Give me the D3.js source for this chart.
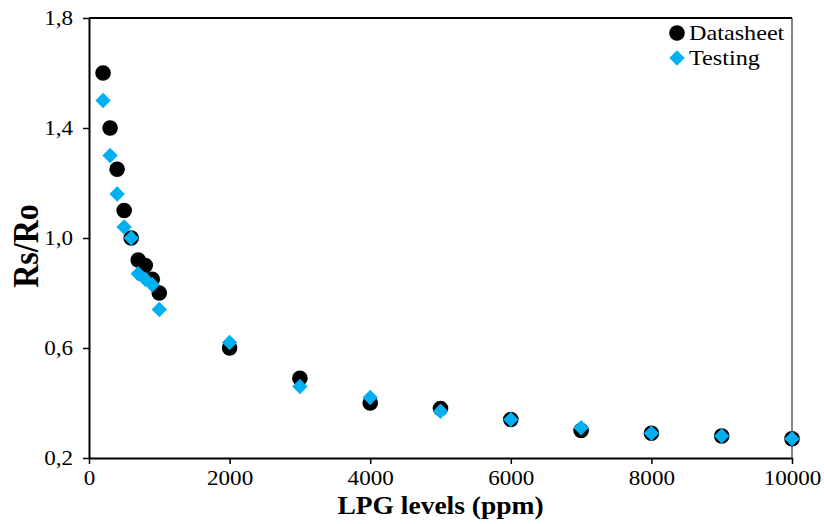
<!DOCTYPE html>
<html>
<head>
<meta charset="utf-8">
<script src="https://cdn.jsdelivr.net/npm/d3@7"></script>
<style>
  body { margin: 0; background: #fff; }
  text { font-family: "Liberation Serif", "Times New Roman", serif; }
</style>
</head>
<body>
<svg id="chart" width="824" height="524"></svg>
<script>
const levels = [200, 300, 400, 500, 600, 700, 800, 900, 1000, 2000, 3000, 4000, 5000, 6000, 7000, 8000, 9000, 10000];
const datasheet = [1.6, 1.4, 1.25, 1.1, 1.0, 0.92, 0.9, 0.85, 0.8, 0.6, 0.49, 0.4, 0.38, 0.34, 0.3, 0.29, 0.28, 0.27];
const testing = [1.5, 1.3, 1.16, 1.04, 1.0, 0.87, 0.85, 0.83, 0.74, 0.62, 0.46, 0.42, 0.37, 0.34, 0.31, 0.29, 0.28, 0.27];
const xTicks = [0, 2000, 4000, 6000, 8000, 10000];
const yTicks = [0.2, 0.6, 1.0, 1.4, 1.8];

const margin = { top: 18, right: 32, bottom: 66, left: 89 };
const width = 824 - margin.left - margin.right;
const height = 524 - margin.top - margin.bottom;
const sx = 1.1; // le texte de l'original est un peu étiré en largeur

const x = d3.scaleLinear().domain([0, 10000]).range([0, width]);
const y = d3.scaleLinear().domain([0.2, 1.8]).range([height, 0]);

const svg = d3.select("#chart")
  .append("g")
  .attr("transform", `translate(${margin.left}, ${margin.top})`);

// cadre du graphique
svg.append("line").attr("x1", 0).attr("x2", width).attr("y1", 0).attr("y2", 0)
  .attr("stroke", "#000").attr("stroke-width", 2);
svg.append("line").attr("x1", width).attr("x2", width).attr("y1", 0).attr("y2", height)
  .attr("stroke", "#333").attr("stroke-width", 1.2);

const xAxis = svg.append("g")
  .attr("transform", `translate(0, ${height})`)
  .call(d3.axisBottom(x).tickValues(xTicks).tickSize(6).tickSizeOuter(0).tickPadding(6).tickFormat(d3.format("d")));

const yAxis = svg.append("g")
  .call(d3.axisLeft(y).tickValues(yTicks).tickSize(6).tickSizeOuter(0).tickPadding(8)
    .tickFormat(d => d3.format(".1f")(d).replace(".", ",")));

[xAxis, yAxis].forEach(a => {
  a.select(".domain").attr("stroke", "#000").attr("stroke-width", 2);
  a.selectAll(".tick line").attr("stroke", "#000").attr("stroke-width", 1.5);
  a.selectAll("text").attr("font-family", "Liberation Serif").attr("font-size", 21).attr("fill", "#000");
});
xAxis.selectAll(".tick text").attr("transform", `scale(${sx},1)`);
yAxis.selectAll(".tick text").attr("x", -16 / sx).attr("transform", `scale(${sx},1)`);

// points
svg.selectAll("circle.ds")
  .data(levels.map((l, i) => ({ l, v: datasheet[i] })))
  .enter()
  .append("circle")
  .attr("class", "ds")
  .attr("cx", d => x(d.l))
  .attr("cy", d => y(d.v))
  .attr("r", 7.8)
  .attr("fill", "#000");

const diamond = d3.symbol().type(d3.symbolDiamond2).size(150);
svg.selectAll("path.ts")
  .data(levels.map((l, i) => ({ l, v: testing[i] })))
  .enter()
  .append("path")
  .attr("class", "ts")
  .attr("d", diamond)
  .attr("transform", d => `translate(${x(d.l)}, ${y(d.v)})`)
  .attr("fill", "#00B0F0");

// légende
const legend = svg.append("g").attr("transform", `translate(${width - 115}, 15)`);
legend.append("circle").attr("cx", 0).attr("cy", 0).attr("r", 7.8).attr("fill", "#000");
legend.append("text").attr("transform", `translate(12, 7) scale(${sx},1)`).attr("font-size", 22).text("Datasheet");
legend.append("path").attr("d", diamond).attr("transform", "translate(0, 25)").attr("fill", "#00B0F0");
legend.append("text").attr("transform", `translate(12, 32) scale(${sx},1)`).attr("font-size", 22).text("Testing");

// titres
svg.append("text")
  .attr("transform", `translate(${width / 2}, ${height + 56}) scale(${sx},1)`)
  .style("text-anchor", "middle")
  .attr("font-size", 25)
  .attr("font-weight", "bold")
  .text("LPG levels (ppm)");

svg.append("text")
  .attr("transform", `translate(${-margin.left + 38}, ${y(1.0) + 8}) scale(${sx},1) rotate(-90)`)
  .style("text-anchor", "middle")
  .attr("font-size", 32)
  .attr("font-weight", "bold")
  .text("Rs/Ro");
</script>
</body>
</html>
